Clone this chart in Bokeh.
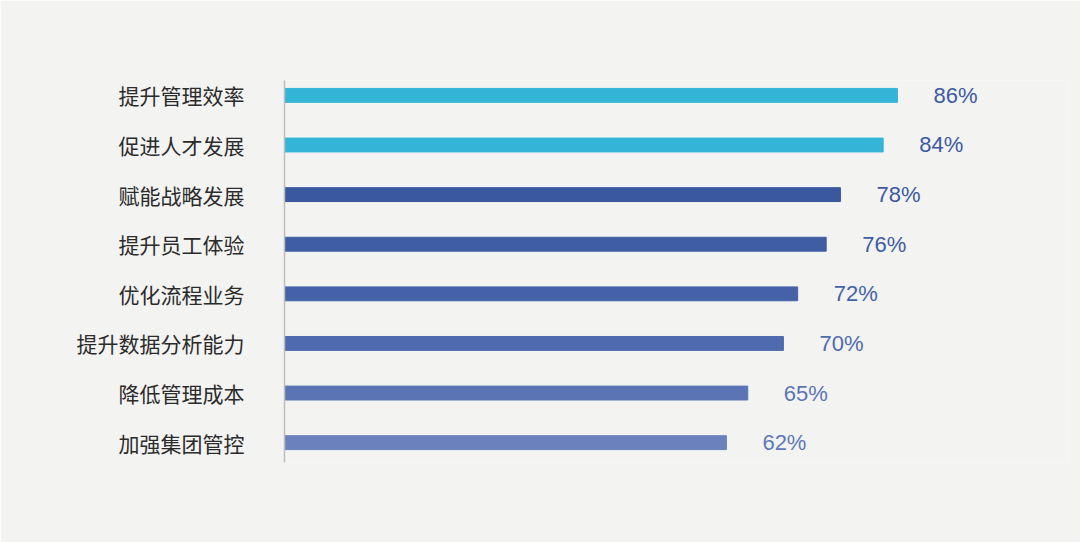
from bokeh.plotting import figure
from bokeh.models import Range1d, FixedTicker, ColumnDataSource
from bokeh.embed import file_html
from bokeh.resources import INLINE
from bokeh.core.properties import value

categories = ["提升管理效率", "促进人才发展", "赋能战略发展", "提升员工体验",
              "优化流程业务", "提升数据分析能力", "降低管理成本", "加强集团管控"]
values = [86, 84, 78, 76, 72, 70, 65, 62]
bar_colors = ["#33B5D8", "#33B5D8", "#3A589E", "#3E5DA3", "#4562A8", "#4F6AAE", "#5B75B4", "#6A81BD"]
label_colors = ["#3D5AA2", "#3D5AA2", "#3D5AA2", "#3F5DA5", "#4562A8", "#4F6AAE", "#5B75B4", "#5F78B8"]
pct_labels = [f"{v}%" for v in values]

n = len(categories)
ypos = [n - 1 - i for i in range(n)]

src = ColumnDataSource(dict(y=ypos, v=values, c=bar_colors, lc=label_colors, t=pct_labels))

bg = "#F3F3F2"
p = figure(width=1080, height=542, output_backend="svg", toolbar_location=None,
           x_range=Range1d(0, 110), y_range=Range1d(-0.4, 7.3),
           min_border_left=284, min_border_right=12, min_border_top=80, min_border_bottom=80,
           background_fill_color=bg, border_fill_color=bg, outline_line_color=None)

p.hbar(y="y", left=0, right="v", height=0.28, color="c", source=src)
p.text(x="v", y="y", text="t", text_color="lc", x_offset=36, text_baseline="middle",
       text_align="left", text_font_size="22px", text_font=value("Liberation Sans"), source=src)

p.xaxis.visible = False
p.grid.visible = False
ya = p.yaxis[0]
ya.ticker = FixedTicker(ticks=ypos)
ya.major_label_overrides = {y: c for y, c in zip(ypos, categories)}
ya.major_tick_line_color = None
ya.minor_tick_line_color = None
ya.axis_line_color = "#BDBDBD"
ya.axis_line_width = 1.5
ya.major_label_standoff = 34
ya.major_label_text_font = "Noto Sans CJK SC"
ya.major_label_text_font_size = "21px"
ya.major_label_text_color = "#2B2B2B"

open("out.html", "w").write(file_html(p, INLINE))
